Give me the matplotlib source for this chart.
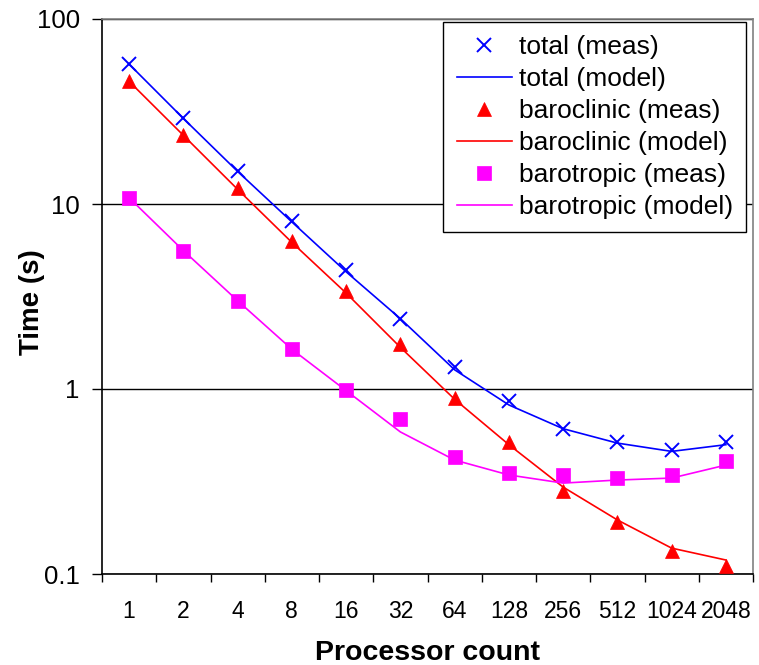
import matplotlib
matplotlib.use('Agg')
import matplotlib.pyplot as plt
import numpy as np

plt.rcParams['font.family'] = ['Liberation Sans', 'DejaVu Sans']

PROCS = ['1', '2', '4', '8', '16', '32', '64', '128', '256', '512', '1024', '2048']

TOTAL_MEAS = [57, 29, 15, 8.1, 4.4, 2.4, 1.31, 0.86, 0.61, 0.52, 0.47, 0.52]
TOTAL_MODEL = [57, 29, 15, 8.0, 4.3, 2.4, 1.27, 0.82, 0.61, 0.51, 0.46, 0.50]
BAROCLINIC_MEAS = [46, 23.6, 12.2, 6.3, 3.4, 1.75, 0.89, 0.52, 0.28, 0.19, 0.133, 0.110]
BAROCLINIC_MODEL = [46, 23.5, 12, 6.2, 3.3, 1.68, 0.88, 0.50, 0.295, 0.196, 0.138, 0.119]
BAROTROPIC_MEAS = [10.8, 5.57, 2.99, 1.64, 0.99, 0.69, 0.43, 0.35, 0.343, 0.33, 0.343, 0.41]
BAROTROPIC_MODEL = [10.8, 5.6, 3.0, 1.64, 0.98, 0.586, 0.413, 0.343, 0.31, 0.322, 0.33, 0.388]

W, H = 759, 665
fig = plt.figure(figsize=(W / 100, H / 100), dpi=100)
ax = fig.add_axes([102 / W, 1 - 574 / H, (753 - 102) / W, (574 - 19) / H])

x = np.arange(len(PROCS))

ax.plot(x, TOTAL_MEAS, linestyle='none', marker='x', ms=9.5, mew=1.4,
        color='#0000FF', label='total (meas)', zorder=4)
ax.plot(x, TOTAL_MODEL, color='#0000FF', lw=1.2, label='total (model)', zorder=3)
ax.plot(x, BAROCLINIC_MEAS, linestyle='none', marker='^', ms=9.5, mew=0.5,
        color='#FF0000', label='baroclinic (meas)', zorder=4)
ax.plot(x, BAROCLINIC_MODEL, color='#FF0000', lw=1.2, label='baroclinic (model)', zorder=3)
ax.plot(x, BAROTROPIC_MEAS, linestyle='none', marker='s', ms=9.5, mew=0.5,
        color='#FF00FF', label='barotropic (meas)', zorder=4)
ax.plot(x, BAROTROPIC_MODEL, color='#FF00FF', lw=1.2, label='barotropic (model)', zorder=3)

# log axis, decades only
ax.set_yscale('log')
ax.set_ylim(0.1, 100)
ax.set_yticks([0.1, 1, 10, 100])
ax.set_yticklabels(['0.1', '1', '10', '100'])
ax.yaxis.set_minor_locator(matplotlib.ticker.NullLocator())
ax.yaxis.grid(True, color='black', lw=1.0)
ax.set_axisbelow(True)

# categorical x axis, tick marks between categories
ax.set_xlim(-0.5, len(PROCS) - 0.5)
ax.set_xticks(x)
ax.set_xticklabels(PROCS)
ax.set_xticks(np.arange(-0.5, len(PROCS)), minor=True)
ax.tick_params(axis='x', which='major', length=0, pad=19, labelsize=16.5)
ax.tick_params(axis='x', which='minor', length=6, width=1, direction='out')
ax.tick_params(axis='y', which='major', length=7, width=1, pad=9, labelsize=18.5)

for side in ['left', 'bottom']:
    ax.spines[side].set_color('black')
    ax.spines[side].set_linewidth(1.2)
for side in ['top', 'right']:
    ax.spines[side].set_color('#808080')
    ax.spines[side].set_linewidth(1.2)

ax.set_xlabel('Processor count', fontsize=20.5, fontweight='bold', labelpad=12)
ax.set_ylabel('Time (s)', fontsize=20, fontweight='bold')
ax.yaxis.set_label_coords((45 - 102) / 651, 0.49)

leg = ax.legend(loc='upper right', bbox_to_anchor=(746 / W, 1 - 22 / H),
                bbox_transform=fig.transFigure, borderaxespad=0,
                fontsize=19, fancybox=False, framealpha=1, edgecolor='black',
                handlelength=2.1, handletextpad=0.25, labelspacing=0.3,
                borderpad=0.5)
leg.get_frame().set_linewidth(1.0)

fig.savefig('out.png', dpi=100)
